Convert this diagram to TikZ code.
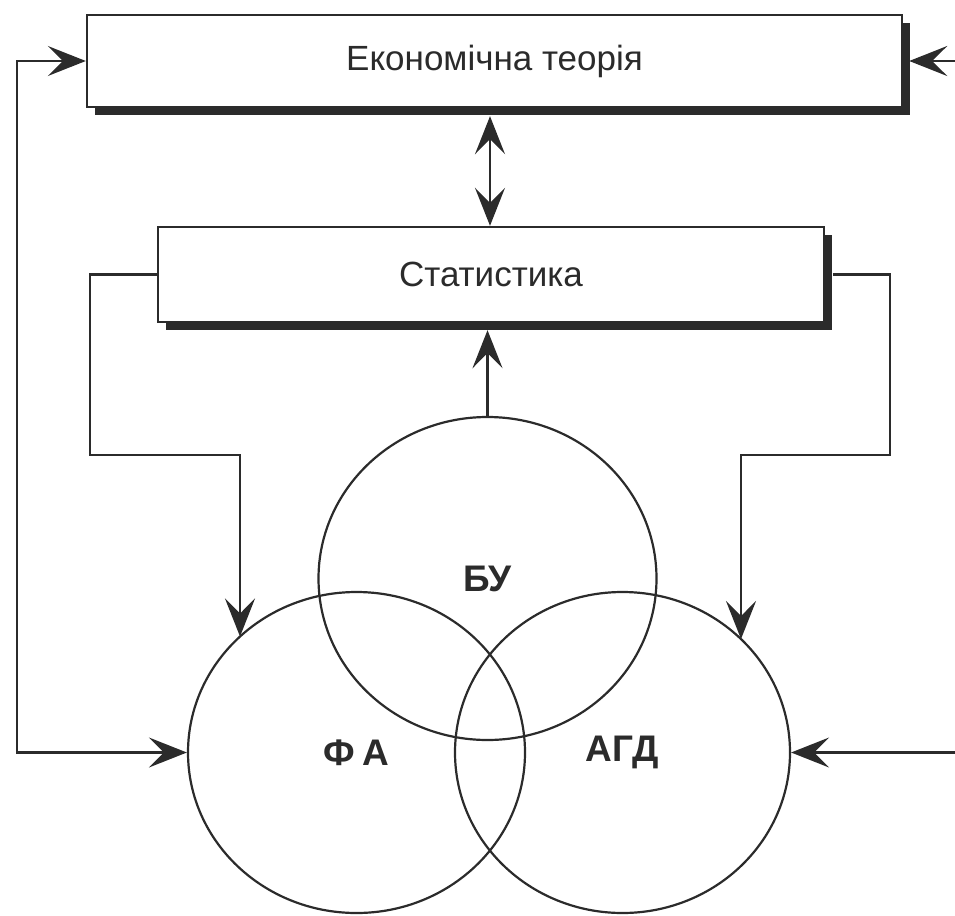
\documentclass[tikz,border=0pt]{standalone}
\usepackage{fontspec}
\setmainfont{Liberation Sans}
\usetikzlibrary{arrows.meta,shapes.geometric,shadows,calc}
\definecolor{ink}{HTML}{2B2B2B}
\begin{document}
\begin{tikzpicture}[x=1pt,y=-1pt,
  >={Stealth[length=38pt,width=30pt,inset=15pt]},
  box/.style={draw=ink, fill=white, line width=2.4pt, inner sep=0pt,
    font=\fontsize{35}{40}\selectfont, text=ink,
    drop shadow={shadow xshift=8pt, shadow yshift=-8pt, fill=ink, opacity=1}},
  ell/.style={ellipse, draw=ink, line width=2.2pt, inner sep=0pt,
    font=\bfseries\fontsize{37}{42}\selectfont, text=ink},
  conn/.style={draw=ink, line width=2.4pt}]
\useasboundingbox (0,0) rectangle (955,915);

% boxes
\node[box, minimum width=815pt, minimum height=92pt] (eco) at (494.5,61) {Економічна теорія};
\node[box, minimum width=666pt, minimum height=95pt] (stat) at (491,274.5) {Статистика};

% circles
\node[ell, minimum width=338pt, minimum height=323pt] (bu) at (487.5,578.5) {БУ};
\node[ell, minimum width=337pt, minimum height=321pt] (fa) at (356.5,752.5) {Ф\kern8ptА};
\node[ell, minimum width=335pt, minimum height=321pt] (agd) at (622.5,752.5) {АГД};

% helper coordinates
\coordinate (L) at (17,0);
\coordinate (R) at (955,0);
\coordinate (X) at (490,0);
\coordinate (SL) at (90,455);
\coordinate (SR) at (890,455);
\coordinate (faTop) at (240,636.5);
\coordinate (agdTop) at (741,639);

% connectors
\draw[conn,<->] (eco.west) -- (eco.west -| L) -- (fa.west -| L) -- (fa.west);
\draw[conn,->] (eco.east -| R) -- ([xshift=6pt]eco.east);
\draw[conn,->] (agd.east -| R) -- (agd.east);
\draw[conn,<->] ([yshift=-8pt]eco.south -| X) -- (stat.north -| X);
\draw[conn,->] (bu.north) -- ([yshift=-7pt]stat.south -| bu.north);
\draw[conn,->] (stat.west) -| (SL) -| (faTop);
\draw[conn,->] ([xshift=8pt]stat.east) -| (SR) -| (agdTop);
\end{tikzpicture}
\end{document}
